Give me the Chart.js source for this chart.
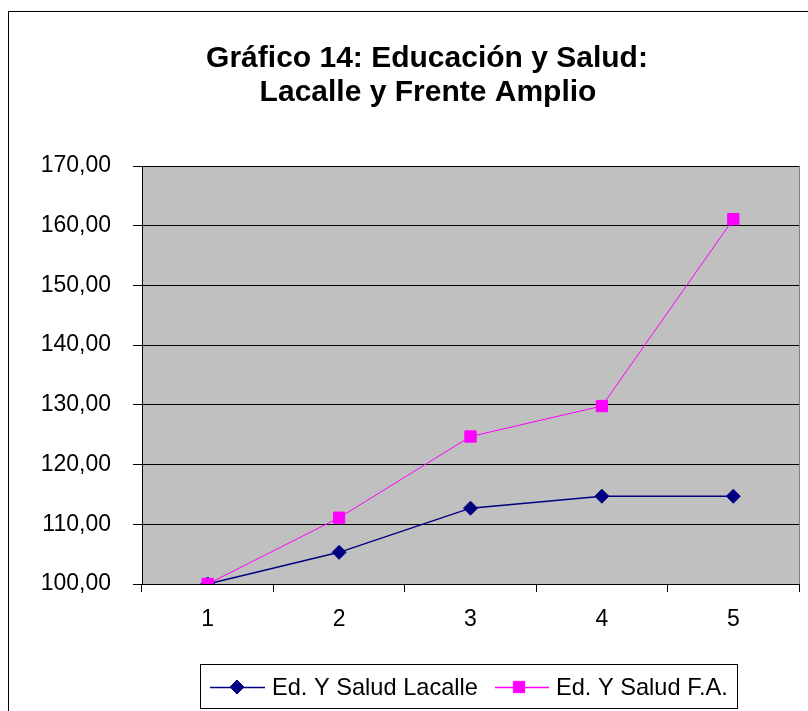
<!DOCTYPE html>
<html>
<head>
<meta charset="utf-8">
<script src="https://cdn.jsdelivr.net/npm/chart.js@4/dist/chart.umd.min.js"></script>
<style>
  html, body { margin: 0; padding: 0; background: #fff; }
  #wrap { width: 808px; height: 711px; }
</style>
</head>
<body>
<div id="wrap"><canvas id="chart" width="808" height="711"></canvas></div>
<script>
// data
const categories = ['1', '2', '3', '4', '5'];
const lacalle = [100, 105.3, 112.7, 114.7, 114.7];
const frenteAmplio = [100, 111.1, 124.7, 129.8, 161.1];
const seriesNames = ['Ed. Y Salud Lacalle', 'Ed. Y Salud F.A.'];
const titleLines = ['Gráfico 14: Educación y Salud:', 'Lacalle y Frente Amplio'];

const NAVY = '#000080';
const MAGENTA = '#FF00FF';
const FONT = 'Arial, "Liberation Sans", sans-serif';

function fmt(v) {
  return v.toFixed(2).replace('.', ',');
}

// background, frame, plot fill, title and boxed legend
const decor = {
  id: 'decor',
  beforeDraw(chart) {
    const ctx = chart.ctx;
    const a = chart.chartArea;
    ctx.save();
    ctx.fillStyle = '#fff';
    ctx.fillRect(0, 0, chart.width, chart.height);
    ctx.strokeStyle = '#000';
    ctx.lineWidth = 1;
    ctx.strokeRect(8.5, 11.5, 900, 900);
    ctx.fillStyle = '#C0C0C0';
    ctx.fillRect(a.left, a.top, a.right - a.left, a.bottom - a.top);
    ctx.restore();
  },
  afterDraw(chart) {
    const ctx = chart.ctx;
    const a = chart.chartArea;
    ctx.save();
    // right edge of plot
    ctx.strokeStyle = '#808080';
    ctx.lineWidth = 1;
    ctx.beginPath();
    ctx.moveTo(Math.round(a.right) + 0.5, a.top);
    ctx.lineTo(Math.round(a.right) + 0.5, a.bottom);
    ctx.stroke();

    // title
    ctx.fillStyle = '#000';
    ctx.font = 'bold 30px ' + FONT;
    ctx.textAlign = 'center';
    ctx.textBaseline = 'middle';
    ctx.fillText(titleLines[0], 427, 59);
    ctx.fillText(titleLines[1], 428, 93);

    // legend box
    ctx.strokeStyle = '#000';
    ctx.strokeRect(200.5, 664.5, 537, 44);
    const items = [
      { x0: 210, x1: 265, mx: 237, tx: 272, color: NAVY, style: 'rectRot', r: 7, label: seriesNames[0] },
      { x0: 495, x1: 549, mx: 519, tx: 556, color: MAGENTA, style: 'rect', r: 8, label: seriesNames[1] }
    ];
    const y = 687;
    ctx.font = '23.6px ' + FONT;
    ctx.textAlign = 'left';
    items.forEach(it => {
      ctx.strokeStyle = it.color;
      ctx.lineWidth = 1.5;
      ctx.beginPath();
      ctx.moveTo(it.x0, y + 0.5);
      ctx.lineTo(it.x1, y + 0.5);
      ctx.stroke();
      ctx.fillStyle = it.color;
      ctx.strokeStyle = it.color;
      ctx.lineWidth = 1;
      Chart.helpers.drawPoint(ctx, { pointStyle: it.style, radius: it.r, borderWidth: 1, rotation: 0 }, it.mx, y);
      ctx.fillStyle = '#000';
      ctx.fillText(it.label, it.tx, y + 1);
    });
    ctx.restore();
  }
};

new Chart(document.getElementById('chart').getContext('2d'), {
  type: 'line',
  data: {
    labels: categories,
    datasets: [
      {
        label: seriesNames[0],
        data: lacalle,
        borderColor: NAVY,
        backgroundColor: NAVY,
        borderWidth: 1.5,
        pointStyle: 'rectRot',
        pointRadius: 7,
        pointBorderWidth: 1,
        tension: 0,
        order: 1
      },
      {
        label: seriesNames[1],
        data: frenteAmplio,
        borderColor: MAGENTA,
        backgroundColor: MAGENTA,
        borderWidth: 1,
        pointStyle: 'rect',
        pointRadius: 8,
        pointBorderWidth: 1,
        tension: 0,
        order: 0
      }
    ]
  },
  options: {
    responsive: false,
    animation: false,
    layout: { padding: { left: 0, right: 9, top: 166, bottom: 77 } },
    plugins: {
      legend: { display: false },
      title: { display: false },
      tooltip: { enabled: false }
    },
    scales: {
      x: {
        type: 'category',
        offset: true,
        grid: { offset: true, drawOnChartArea: false, drawTicks: true, tickLength: 8, color: '#000', lineWidth: 1 },
        border: { display: true, color: '#000', width: 1 },
        ticks: { color: '#000', font: { family: FONT, size: 23 }, padding: 14, maxRotation: 0 },
        afterFit(scale) { scale.height = 50; }
      },
      y: {
        min: 100,
        max: 170,
        grid: { color: '#000', lineWidth: 1, drawTicks: true, tickLength: 9 },
        border: { display: true, color: '#000', width: 1 },
        ticks: {
          stepSize: 10,
          color: '#000',
          font: { family: FONT, size: 23 },
          padding: 22,
          callback: v => fmt(v)
        },
        afterFit(scale) { scale.width = 142; }
      }
    }
  },
  plugins: [decor]
});
</script>
</body>
</html>
